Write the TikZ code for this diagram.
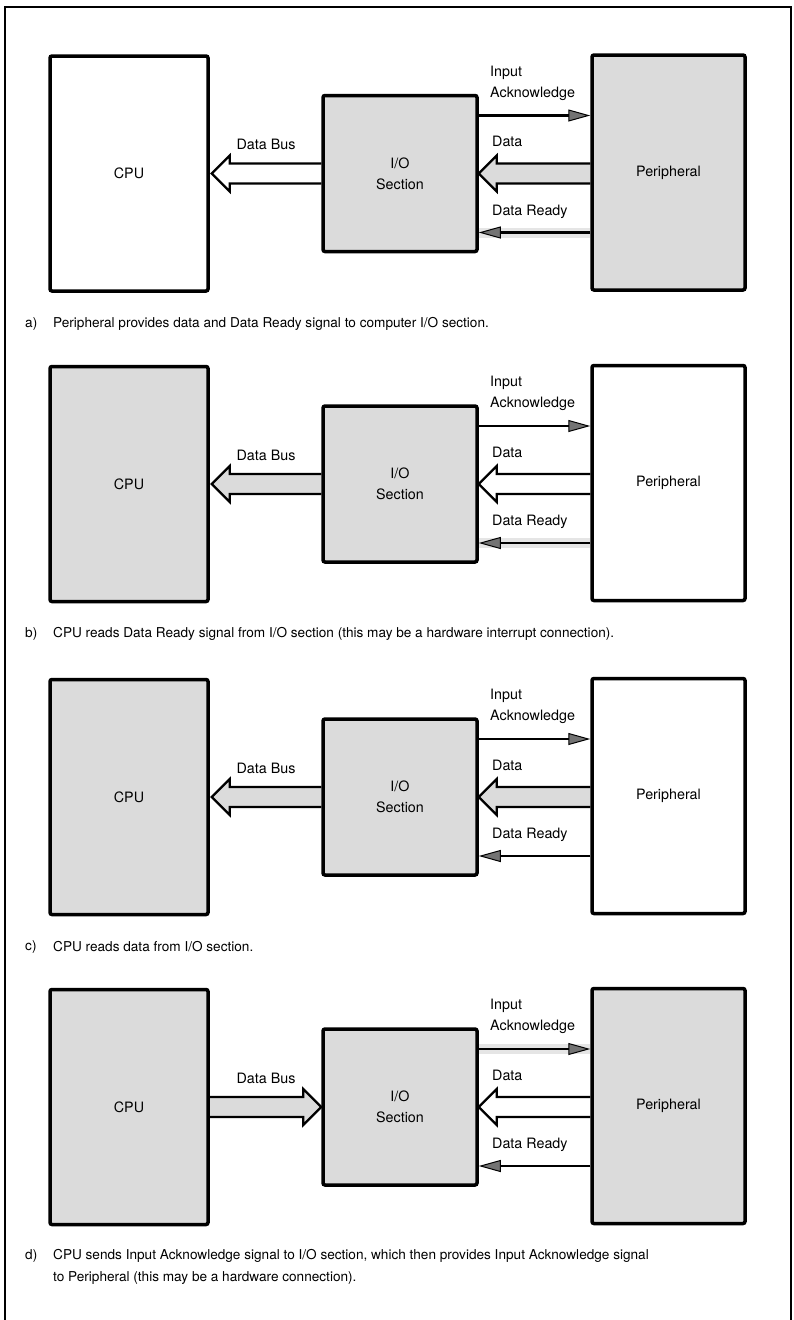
\documentclass[tikz,border=0pt]{standalone}
\usepackage{fontspec}
\setmainfont{TeX Gyre Heros}
\usetikzlibrary{arrows.meta,calc}
\pgfdeclarelayer{bg}
\pgfsetlayers{bg,main}
\definecolor{shade}{gray}{0.86}
\definecolor{bandgray}{gray}{0.9}
\definecolor{headgray}{gray}{0.45}
\tikzset{
 box/.style={draw, line width=3.5pt, rounded corners=2pt, font=\fontsize{14.3}{21}\selectfont, align=center, inner sep=0pt},
 lbl/.style={font=\fontsize{14.3}{16}\selectfont, inner sep=0pt},
 captxt/.style={font=\fontsize{13.6}{15}\selectfont, anchor=west, inner sep=0pt},
 sig/.style={line width=2.2pt, -{Triangle[length=22pt,width=12pt,fill=headgray,line width=1pt]}},
 band/.style={line width=10pt},
 bus/.style={line width=2.2pt, line join=miter},
}
% #1 suffix, #2 centre y, #3 cpu fill, #4 peripheral fill, #5 bus fill,
% #6 data fill, #7 ack band, #8 ready band, #9 bus direction (L/R)
\newcommand\ioPanel[9]{%
 \node[box, fill=#3, minimum width=158pt, minimum height=235pt] (cpu#1) at (129,#2) {CPU};
 \node[box, fill=shade, minimum width=154pt, minimum height=156pt] (io#1) at (400,#2) {I/O\\Section};
 \node[box, fill=#4, minimum width=153pt, minimum height=235pt] (per#1) at (668.5,#2-1) {Peripheral};
 \begin{pgfonlayer}{bg}
  \draw[band, #7] ($(io#1.east)+(0,-58)$) -- ($(per#1.west|-io#1.east)+(0,-58)$);
  \draw[band, #8] ($(io#1.east)+(0,59)$) -- ($(per#1.west|-io#1.east)+(0,59)$);
  \if#9L
   \coordinate (bt#1) at ($(cpu#1.east|-io#1.west)+(2,0)$);
   \path[bus, fill=#5, draw] ($(io#1.west)+(0,-10)$) -- ($(bt#1)+(18,-10)$) -- ($(bt#1)+(18,-18)$) -- (bt#1) -- ($(bt#1)+(18,18)$) -- ($(bt#1)+(18,10)$) -- ($(io#1.west)+(0,10)$);
  \else
   \coordinate (bt#1) at (io#1.west);
   \path[bus, fill=#5, draw] ($(cpu#1.east|-io#1.west)+(0,-10)$) -- ($(bt#1)+(-18,-10)$) -- ($(bt#1)+(-18,-18)$) -- (bt#1) -- ($(bt#1)+(-18,18)$) -- ($(bt#1)+(-18,10)$) -- ($(cpu#1.east|-io#1.west)+(0,10)$);
  \fi
  \path[bus, fill=#6, draw] ($(per#1.west|-io#1.east)+(0,-10)$) -- ($(io#1.east)+(18,-10)$) -- ($(io#1.east)+(18,-18)$) -- (io#1.east) -- ($(io#1.east)+(18,18)$) -- ($(io#1.east)+(18,10)$) -- ($(per#1.west|-io#1.east)+(0,10)$);
 \end{pgfonlayer}
 \draw[sig] ($(io#1.east)+(0,-58)$) -- ($(per#1.west|-io#1.east)+(0,-58)$);
 \draw[sig] ($(per#1.west|-io#1.east)+(0,59)$) -- ($(io#1.east)+(0,59)$);
 \node[lbl, anchor=west] (in#1) at (490,#2-101) {Input};
 \node[lbl, anchor=west] (ack#1) at (490,#2-80) {Acknowledge};
 \node[lbl, anchor=west] (dl#1) at (492,#2-32) {Data};
 \node[lbl, anchor=west] (dr#1) at (492,#2+38) {Data Ready};
 \node[lbl] (db#1) at (266,#2-29) {Data Bus};
}
\begin{document}
\begin{tikzpicture}[x=1pt,y=-1pt]
\useasboundingbox (0,0) rectangle (793,1320);
\draw[line width=1.5pt] (5,1320) -- (5,7) -- (791,7) -- (791,1320);

\ioPanel{a}{173.5}{white}{shade}{white}{shade}{draw=none}{draw=bandgray}{L}
\node[captxt] (capa) at (25,324) {a)};
\node[captxt] (capat) at (53,324) {Peripheral provides data and Data Ready signal to computer I/O section.};

\ioPanel{b}{484}{shade}{white}{shade}{white}{draw=none}{draw=bandgray}{L}
\node[captxt] (capb) at (25,634) {b)};
\node[captxt] (capbt) at (53,634) {CPU reads Data Ready signal from I/O section (this may be a hardware interrupt connection).};

\ioPanel{c}{797}{shade}{white}{shade}{shade}{draw=none}{draw=none}{L}
\node[captxt] (capc) at (25,947) {c)};
\node[captxt] (capct) at (53,947) {CPU reads data from I/O section.};

\ioPanel{d}{1107}{shade}{shade}{shade}{white}{draw=bandgray}{draw=none}{R}
\node[captxt] (capd) at (25,1256) {d)};
\node[captxt] (capdt) at (53,1256) {CPU sends Input Acknowledge signal to I/O section, which then provides Input Acknowledge signal};
\node[captxt] (capdt2) at (53,1278) {to Peripheral (this may be a hardware connection).};
\end{tikzpicture}
\end{document}
